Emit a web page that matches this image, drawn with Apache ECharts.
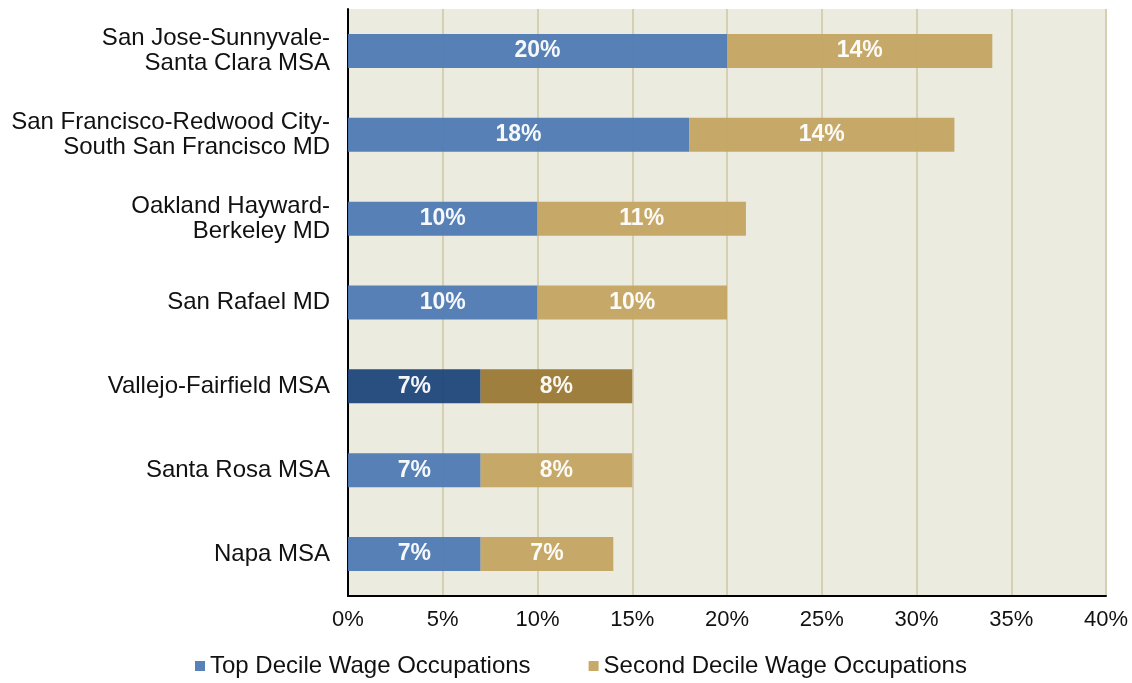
<!DOCTYPE html>
<html>
<head>
<meta charset="utf-8">
<script src="https://cdn.jsdelivr.net/npm/echarts@6/dist/echarts.min.js"></script>
<style>
  html, body { margin: 0; padding: 0; background: #fff; }
  #chart { width: 1132px; height: 683px; }
</style>
</head>
<body>
<div id="chart"></div>
<script>
// categories, top to bottom
var regions = [
  "San Jose-Sunnyvale-\nSanta Clara MSA",
  "San Francisco-Redwood City-\nSouth San Francisco MD",
  "Oakland Hayward-\nBerkeley MD",
  "San Rafael MD",
  "Vallejo-Fairfield MSA",
  "Santa Rosa MSA",
  "Napa MSA"
];
var topDecile = [20, 18, 10, 10, 7, 7, 7];
var secondDecile = [14, 14, 11, 10, 8, 8, 7];
var highlightIndex = 4; // Vallejo drawn darker
var xTicks = [0, 5, 10, 15, 20, 25, 30, 35, 40];

var chart = echarts.init(document.getElementById("chart"));

function makeData(values, normal, dark) {
  return values.map(function (v, i) {
    return {
      value: v,
      itemStyle: { color: i === highlightIndex ? dark : normal }
    };
  });
}

var barLabel = {
  show: true,
  position: "inside",
  color: "#fff",
  fontFamily: "Liberation Sans",
  fontWeight: "bold",
  fontSize: 23,
  formatter: function (p) { return p.value + "%"; }
};

var option = {
  backgroundColor: "#fff",
  textStyle: { fontFamily: "Liberation Sans" },
  grid: { left: 348, right: 26, top: 9, bottom: 87, backgroundColor: "#ECEBDF", show: true, borderWidth: 0 },
  legend: {
    bottom: 0,
    left: 190,
    itemWidth: 10,
    itemHeight: 10,
    itemGap: 58,
    icon: "rect",
    textStyle: { fontSize: 24, color: "#111", fontFamily: "Liberation Sans" },
    data: ["Top Decile Wage Occupations", "Second Decile Wage Occupations"]
  },
  xAxis: {
    type: "value",
    min: xTicks[0],
    max: xTicks[xTicks.length - 1],
    interval: 5,
    axisLine: { show: true, lineStyle: { color: "#000", width: 2 } },
    axisTick: { show: false },
    splitLine: { show: true, lineStyle: { color: "#D6D0B2", width: 2 } },
    axisLabel: {
      fontSize: 22,
      color: "#111",
      margin: 13,
      formatter: function (v) { return v + "%"; }
    }
  },
  yAxis: {
    type: "category",
    inverse: true,
    data: regions,
    axisLine: { show: true, lineStyle: { color: "#000", width: 2 } },
    axisTick: { show: false },
    axisLabel: {
      fontSize: 24,
      color: "#111",
      margin: 18,
      lineHeight: 25,
      align: "right"
    }
  },
  series: [
    {
      name: "Top Decile Wage Occupations",
      type: "bar",
      stack: "total",
      barWidth: 34,
      itemStyle: { color: "#4F7BB3", opacity: 0.95 },
      label: barLabel,
      data: makeData(topDecile, "#4F7BB3", "#1F467A")
    },
    {
      name: "Second Decile Wage Occupations",
      type: "bar",
      stack: "total",
      barWidth: 34,
      itemStyle: { color: "#C4A562", opacity: 0.95 },
      label: barLabel,
      data: makeData(secondDecile, "#C4A562", "#9B7934")
    }
  ]
};

chart.setOption(option);
</script>
</body>
</html>
